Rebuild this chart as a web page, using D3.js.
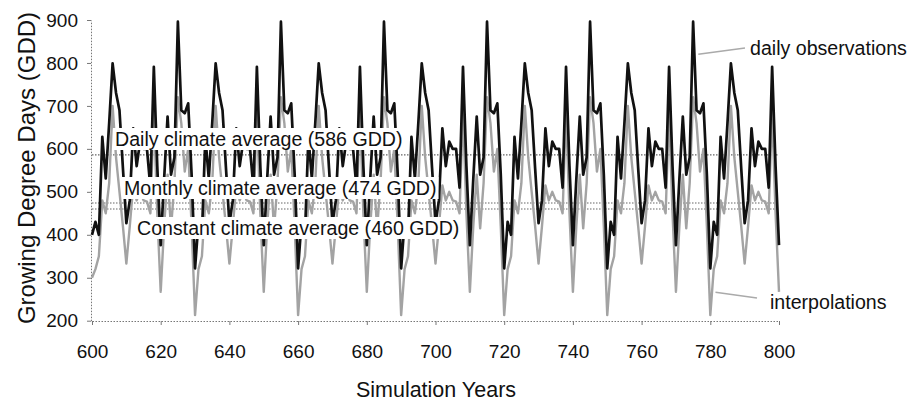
<!DOCTYPE html>
<html>
<head>
<meta charset="utf-8">
<script src="https://cdn.jsdelivr.net/npm/d3@7"></script>
<style>
body { margin: 0; background: #fff; }
svg text { font-family: Arial, "Liberation Sans", sans-serif; fill: #111; }
</style>
</head>
<body>
<svg id="chart" width="911" height="401"></svg>
<script>
// simulation years on the x axis
const years = d3.range(600, 801);

// growing degree days from daily observations (black line)
const dailyObs = [
  400,430,400,628,531,660,799,730,690,555,427,480,648,560,617,600,600,510,791,560,376,530,675,540,580,896,690,683,706,540,
  322,430,400,628,531,660,799,730,690,555,427,480,648,560,617,600,600,510,791,560,376,530,675,540,580,896,690,683,706,540,
  322,430,400,628,531,660,799,730,690,555,427,480,648,560,617,600,600,510,791,560,376,530,675,540,580,896,690,683,706,540,
  322,430,400,628,531,660,799,730,690,555,427,480,648,560,617,600,600,510,791,560,376,530,675,540,580,896,690,683,706,540,
  322,430,400,628,531,660,799,730,690,555,427,480,648,560,617,600,600,510,791,560,376,530,675,540,580,896,690,683,706,540,
  322,430,400,628,531,660,799,730,690,555,427,480,648,560,617,600,600,510,791,560,376,530,675,540,580,896,690,683,706,540,
  322,430,400,628,531,660,799,730,690,555,427,480,648,560,617,600,600,510,791,560,376
];

// growing degree days from monthly interpolations (grey line)
const interpolations = [
  300,320,350,480,450,520,700,580,500,420,333,420,515,480,500,480,477,450,690,450,267,420,540,415,520,720,660,547,600,420,
  213,320,350,480,450,520,700,580,500,420,333,420,515,480,500,480,477,450,690,450,267,420,540,415,520,720,660,547,600,420,
  213,320,350,480,450,520,700,580,500,420,333,420,515,480,500,480,477,450,690,450,267,420,540,415,520,720,660,547,600,420,
  213,320,350,480,450,520,700,580,500,420,333,420,515,480,500,480,477,450,690,450,267,420,540,415,520,720,660,547,600,420,
  213,320,350,480,450,520,700,580,500,420,333,420,515,480,500,480,477,450,690,450,267,420,540,415,520,720,660,547,600,420,
  213,320,350,480,450,520,700,580,500,420,333,420,515,480,500,480,477,450,690,450,267,420,540,415,520,720,660,547,600,420,
  213,320,350,480,450,520,700,580,500,420,333,420,515,480,500,480,477,450,690,450,267
];

// climate averages
const avgValues = [586, 474, 460];
const avgLabels = [
  "Daily climate average (586 GDD)",
  "Monthly climate average (474 GDD)",
  "Constant climate average (460 GDD)"
];

const xTicks = [600, 620, 640, 660, 680, 700, 720, 740, 760, 780, 800];
const yTicks = [200, 300, 400, 500, 600, 700, 800, 900];

const svg = d3.select('#chart');

const x = d3.scaleLinear().domain([600, 800]).range([92, 779]);
const y = d3.scaleLinear().domain([200, 900]).range([320.7, 20]);

// axes
const yAxis = svg.append('g')
    .attr('transform', 'translate(91,0)')
    .call(d3.axisLeft(y).tickValues(yTicks).tickSize(4).tickSizeOuter(0).tickPadding(9));

const xAxis = svg.append('g')
    .attr('transform', 'translate(0,321)')
    .call(d3.axisBottom(x).tickValues(xTicks).tickSize(4).tickSizeOuter(0).tickPadding(20));

[xAxis, yAxis].forEach(ax => {
    ax.select('.domain')
        .attr('stroke', '#777')
        .attr('stroke-dasharray', '1.5,1.5');
    ax.selectAll('.tick line').attr('stroke', '#777');
    ax.selectAll('.tick text')
        .attr('font-size', '19px')
        .attr('font-family', 'Arial, "Liberation Sans", sans-serif')
        .attr('fill', '#111');
});

// average reference lines
svg.append('g').selectAll('line')
    .data(avgValues).enter()
    .append('line')
    .attr('x1', x(600))
    .attr('x2', x(800))
    .attr('y1', d => y(d))
    .attr('y2', d => y(d))
    .attr('stroke', '#666')
    .attr('stroke-width', 1.2)
    .attr('stroke-dasharray', '1.5,1.5');

// series
const line = d3.line()
    .x((d, i) => x(years[i]))
    .y(d => y(d));

svg.append('path')
    .datum(interpolations)
    .attr('fill', 'none')
    .attr('stroke', '#a3a3a3')
    .attr('stroke-width', 2.4)
    .attr('stroke-linejoin', 'round')
    .attr('d', line);

svg.append('path')
    .datum(dailyObs)
    .attr('fill', 'none')
    .attr('stroke', '#111')
    .attr('stroke-width', 2.7)
    .attr('stroke-linejoin', 'round')
    .attr('d', line);

// average labels with white boxes behind
const labelPos = [[115, 146], [124, 195], [137, 235]];
avgLabels.forEach((t, i) => {
    let g = svg.append('g');
    let txt = g.append('text')
        .attr('x', labelPos[i][0])
        .attr('y', labelPos[i][1])
        .attr('font-size', '19.6px')
        .text(t);
    let bb = txt.node().getBBox();
    g.insert('rect', 'text')
        .attr('x', bb.x - 2)
        .attr('y', bb.y)
        .attr('width', bb.width + 4)
        .attr('height', bb.height)
        .attr('fill', '#fff');
});

// annotations
svg.append('line')
    .attr('x1', x(776.5)).attr('y1', y(820))
    .attr('x2', 745).attr('y2', 48)
    .attr('stroke', '#aaa').attr('stroke-width', 1.5);
svg.append('text')
    .attr('x', 750).attr('y', 55)
    .attr('font-size', '19.6px')
    .text('daily observations');

svg.append('line')
    .attr('x1', x(781.5)).attr('y1', y(266))
    .attr('x2', 757).attr('y2', 298)
    .attr('stroke', '#aaa').attr('stroke-width', 1.5);
svg.append('text')
    .attr('x', 770).attr('y', 309)
    .attr('font-size', '19.6px')
    .text('interpolations');

// axis titles
svg.append('text')
    .attr('transform', 'translate(35,168) rotate(-90)')
    .attr('text-anchor', 'middle')
    .attr('font-size', '24px')
    .text('Growing Degree Days (GDD)');

svg.append('text')
    .attr('x', 436).attr('y', 397)
    .attr('text-anchor', 'middle')
    .attr('font-size', '21.5px')
    .text('Simulation Years');
</script>
</body>
</html>
